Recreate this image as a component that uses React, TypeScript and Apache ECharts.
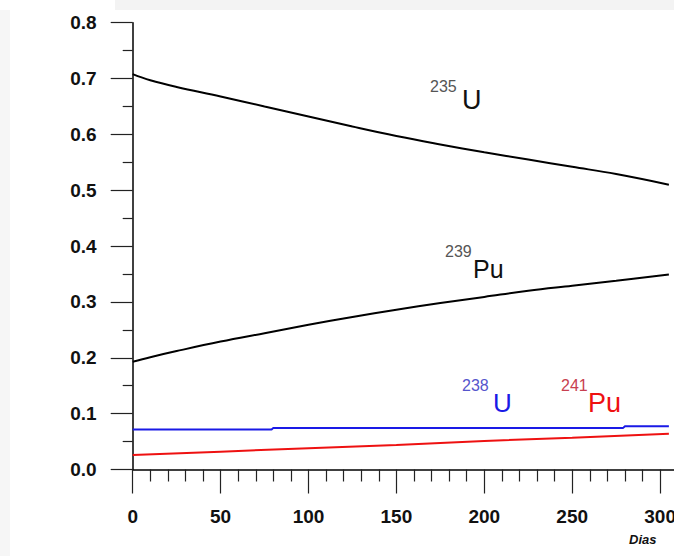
import React, { useEffect, useRef } from "react";
import * as echarts from "echarts";

const u235Days = [0, 10, 25, 50, 75, 100, 125, 150, 175, 200, 225, 250, 275, 305];
const u235Values = [0.708, 0.697, 0.685, 0.668, 0.65, 0.632, 0.614, 0.597, 0.582, 0.568, 0.555, 0.542, 0.529, 0.51];

const pu239Days = [0, 10, 25, 50, 75, 100, 125, 150, 175, 200, 225, 250, 275, 305];
const pu239Values = [0.193, 0.201, 0.212, 0.229, 0.244, 0.259, 0.273, 0.286, 0.298, 0.309, 0.32, 0.329, 0.338, 0.349];

const u238Days = [0, 79, 80, 279, 280, 305];
const u238Values = [0.0715, 0.0715, 0.0745, 0.0745, 0.0775, 0.0775];

const pu241Days = [0, 50, 100, 150, 200, 250, 305];
const pu241Values = [0.026, 0.032, 0.038, 0.044, 0.051, 0.057, 0.064];

const xTicks = [0, 50, 100, 150, 200, 250, 300, 350];
const xLabelMax = 300;
const yTicks = [0, 0.1, 0.2, 0.3, 0.4, 0.5, 0.6, 0.7, 0.8];

const zip = (xs: number[], ys: number[]) => xs.map((x, i) => [x, ys[i]]);

export default function App() {
  const ref = useRef<HTMLDivElement>(null);
  useEffect(() => {
    document.body.style.margin = "0";
    const chart = echarts.init(ref.current!, null, { renderer: "svg" });
    const font = "'Liberation Sans', Arial, sans-serif";
    const tickColor = "#222";
    chart.setOption({
      animation: false,
      backgroundColor: "#ffffff",
      grid: {
        left: 132.7,
        top: 22.7,
        bottom: 86.5,
        right: -74,
        containLabel: false,
        outerBoundsMode: "none",
      },
      xAxis: {
        type: "value",
        min: xTicks[0],
        max: xTicks[xTicks.length - 1],
        interval: 50,
        axisLine: { show: true, onZero: false, lineStyle: { color: "#000", width: 1.5 } },
        axisTick: { show: true, inside: false, length: 24, lineStyle: { color: tickColor, width: 1.2 } },
        minorTick: { show: true, splitNumber: 5, length: 12, lineStyle: { color: tickColor, width: 1.2 } },
        splitLine: { show: false },
        axisLabel: {
          margin: 37,
          fontFamily: font,
          fontWeight: "bold",
          fontSize: 19,
          color: "#111",
          formatter: (v: number) => (v > xLabelMax ? "" : String(v)),
        },
      },
      yAxis: {
        type: "value",
        min: yTicks[0],
        max: yTicks[yTicks.length - 1],
        interval: 0.1,
        axisLine: { show: true, onZero: false, lineStyle: { color: "#000", width: 1.5 } },
        axisTick: { show: true, inside: false, length: 22, lineStyle: { color: tickColor, width: 1.2 } },
        minorTick: { show: true, splitNumber: 2, length: 10, lineStyle: { color: tickColor, width: 1.2 } },
        splitLine: { show: false },
        axisLabel: {
          margin: 36,
          fontFamily: font,
          fontWeight: "bold",
          fontSize: 19,
          color: "#111",
          formatter: (v: number) => v.toFixed(1),
        },
      },
      series: [
        {
          name: "235U",
          type: "line",
          smooth: 0.4,
          showSymbol: false,
          data: zip(u235Days, u235Values),
          lineStyle: { color: "#000", width: 2 },
        },
        {
          name: "239Pu",
          type: "line",
          smooth: 0.4,
          showSymbol: false,
          data: zip(pu239Days, pu239Values),
          lineStyle: { color: "#000", width: 2 },
        },
        {
          name: "238U",
          type: "line",
          showSymbol: false,
          data: zip(u238Days, u238Values),
          lineStyle: { color: "#1a1ae6", width: 2 },
        },
        {
          name: "241Pu",
          type: "line",
          showSymbol: false,
          data: zip(pu241Days, pu241Values),
          lineStyle: { color: "#ee1111", width: 2 },
        },
      ],
      graphic: [
        { type: "rect", shape: { x: 115, y: 0, width: 559, height: 10 }, style: { fill: "#f3f3f3" }, z: -10 },
        { type: "rect", shape: { x: 0, y: 10, width: 10, height: 546 }, style: { fill: "#f6f6f6" }, z: -10 },
        { type: "text", x: 430, y: 86, style: { text: "235", font: `16px ${font}`, fill: "#555", textVerticalAlign: "middle" } },
        { type: "text", x: 462, y: 100, style: { text: "U", font: `27px ${font}`, fill: "#111", textVerticalAlign: "middle" } },
        { type: "text", x: 445, y: 251, style: { text: "239", font: `16px ${font}`, fill: "#555", textVerticalAlign: "middle" } },
        { type: "text", x: 473, y: 268.5, style: { text: "Pu", font: `25px ${font}`, fill: "#111", textVerticalAlign: "middle" } },
        { type: "text", x: 462, y: 385, style: { text: "238", font: `16px ${font}`, fill: "#5555cc", textVerticalAlign: "middle" } },
        { type: "text", x: 493, y: 403, style: { text: "U", font: `26px ${font}`, fill: "#1a1ae6", textVerticalAlign: "middle" } },
        { type: "text", x: 561, y: 385, style: { text: "241", font: `16px ${font}`, fill: "#c84050", textVerticalAlign: "middle" } },
        { type: "text", x: 588, y: 402.5, style: { text: "Pu", font: `27px ${font}`, fill: "#ee1111", textVerticalAlign: "middle" } },
        { type: "text", x: 629, y: 539, style: { text: "Dias", font: `italic bold 13px ${font}`, fill: "#111", textVerticalAlign: "middle" } },
      ],
    });
    return () => chart.dispose();
  }, []);
  return <div ref={ref} style={{ width: 674, height: 556 }} />;
}
